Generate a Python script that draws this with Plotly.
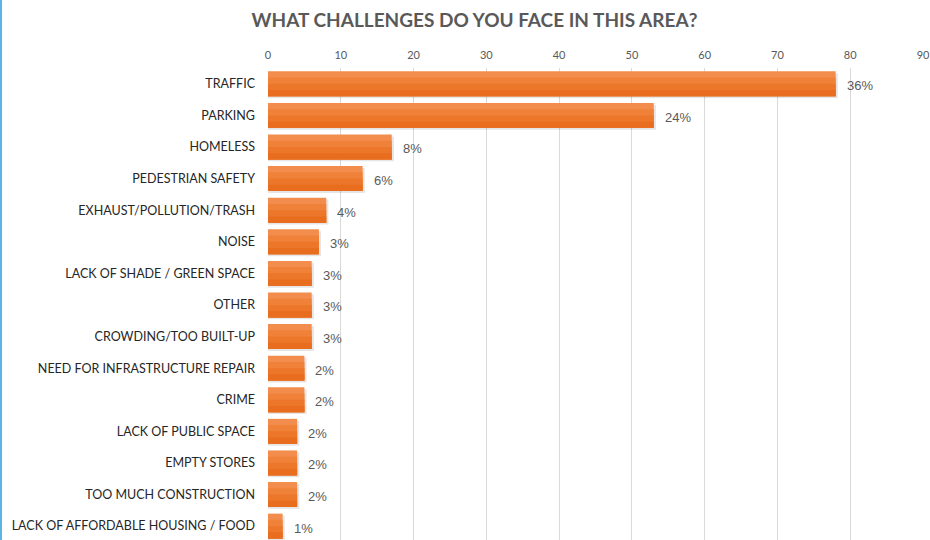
import plotly.graph_objects as go

# Survey responses: number of mentions per challenge
categories = [
    "TRAFFIC",
    "PARKING",
    "HOMELESS",
    "PEDESTRIAN SAFETY",
    "EXHAUST/POLLUTION/TRASH",
    "NOISE",
    "LACK OF SHADE / GREEN SPACE",
    "OTHER",
    "CROWDING/TOO BUILT-UP",
    "NEED FOR INFRASTRUCTURE REPAIR",
    "CRIME",
    "LACK OF PUBLIC SPACE",
    "EMPTY STORES",
    "TOO MUCH CONSTRUCTION",
    "LACK OF AFFORDABLE HOUSING / FOOD",
]
counts = [78, 53, 17, 13, 8, 7, 6, 6, 6, 5, 5, 4, 4, 4, 2]
x_ticks = [0, 10, 20, 30, 40, 50, 60, 70, 80, 90]

total = sum(counts)
pct_labels = [f"{round(c / total * 100)}%" for c in counts]

W, H = 930, 540
ML, MR, MT, MB = 268, 7, 68, 0

BAR_W = 0.79
# light-to-dark bands give the bars a vertical gradient
band_colors = ["#F38D4D", "#F08139", "#EC7629", "#E86D1F"]

fig = go.Figure()

# soft drop shadow behind each bar
fig.add_trace(go.Bar(
    y=categories, x=[c + 0.3 for c in counts], orientation="h",
    width=BAR_W, offset=-BAR_W / 2 + 0.06,
    marker=dict(color="rgba(0,0,0,0.10)", line=dict(width=0)),
    hoverinfo="skip", showlegend=False,
))

n = len(band_colors)
band = BAR_W / n
for i, col in enumerate(band_colors):
    # each band runs to the bottom of the bar so no seams show between them
    fig.add_trace(go.Bar(
        y=categories, x=counts, orientation="h",
        width=BAR_W - i * band, offset=-BAR_W / 2 + i * band,
        marker=dict(color=col, line=dict(width=0)),
        showlegend=False, hoverinfo="x+y" if i == 0 else "skip",
    ))

for cat, c, lab in zip(categories, counts, pct_labels):
    fig.add_annotation(
        x=c, y=cat, text=lab, showarrow=False,
        xanchor="left", yanchor="middle", xshift=9, yshift=-2,
        font=dict(family="Liberation Sans, Arial", size=13, color="#595959"),
    )

# thin blue border along the left edge
fig.add_shape(
    type="line", xref="paper", yref="paper",
    x0=(1.0 - ML) / (W - ML - MR), x1=(1.0 - ML) / (W - ML - MR),
    y0=0, y1=1 + MT / (H - MT - MB),
    line=dict(color="#5DB2E6", width=2),
)

fig.update_layout(
    width=W, height=H,
    margin=dict(l=ML, r=MR, t=MT, b=MB),
    paper_bgcolor="white", plot_bgcolor="white",
    barmode="overlay",
    title=dict(
        text="<b>WHAT CHALLENGES DO YOU FACE IN THIS AREA?</b>",
        x=474.5 / W, xanchor="center", xref="container",
        y=1 - 20 / H, yanchor="middle", yref="container",
        font=dict(family="Lato", size=19, color="#595959"),
    ),
    xaxis=dict(
        side="top", range=[0, 90], tickvals=x_ticks,
        showgrid=True, gridcolor="#D9D9D9", gridwidth=1,
        zeroline=False, showline=False, ticks="",
        tickfont=dict(family="Lato", size=11, color="#595959"),
        ticklabelstandoff=6,
    ),
    yaxis=dict(
        type="category", categoryorder="array", categoryarray=categories,
        range=[14.44, -0.5], showgrid=False, zeroline=False,
        showline=False, ticks="", ticklabelstandoff=12,
        tickfont=dict(family="Lato", size=12.5, color="#262626"),
    ),
)

fig.write_html("out.html")
